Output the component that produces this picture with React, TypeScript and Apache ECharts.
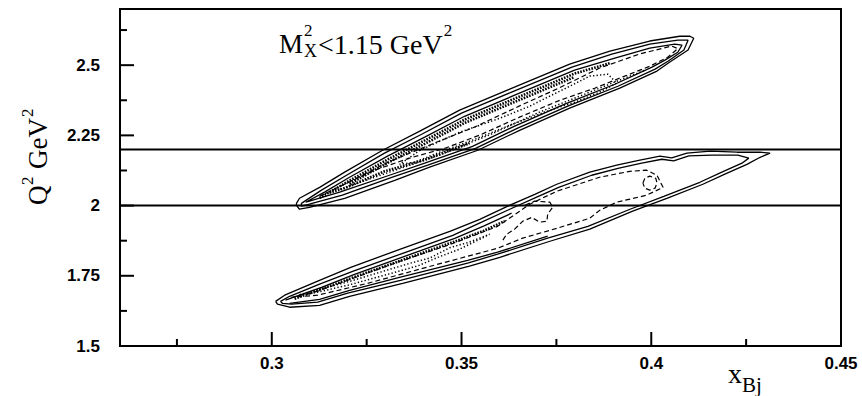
import React, { useEffect, useRef } from "react";
import * as echarts from "echarts";

type Pt = [number, number];

// Axis extents and tick positions (x_Bj, Q^2 in GeV^2)
const X_RANGE: [number, number] = [0.26, 0.45];
const Y_RANGE: [number, number] = [1.5, 2.7];
const X_MAJOR = [0.3, 0.35, 0.4, 0.45];
const X_MINOR = [0.275, 0.325, 0.375, 0.425];
const Y_MAJOR = [1.5, 1.75, 2, 2.25, 2.5];
const Y_MINOR = [1.625, 1.875, 2.125, 2.375, 2.625];

// Q^2 bin edges drawn across the plot
const Q2_CUTS = [2.0, 2.2];

// ---- Upper band (Q^2 > 2 GeV^2) contour levels ----
const A_SOLID_1: Pt[] = [
  [0.3065, 2.008], [0.3073, 2.026], [0.3126, 2.065], [0.3192, 2.119], [0.3292, 2.197],
  [0.339, 2.265], [0.3495, 2.34], [0.3627, 2.415], [0.3785, 2.504], [0.3891, 2.55],
  [0.3996, 2.586], [0.4075, 2.603], [0.4102, 2.603], [0.4112, 2.596],
  [0.4097, 2.554], [0.4049, 2.511], [0.4015, 2.479], [0.3917, 2.418], [0.3785, 2.347],
  [0.3653, 2.268], [0.3543, 2.197], [0.3416, 2.137], [0.3324, 2.09], [0.3192, 2.026],
  [0.3099, 1.994], [0.3073, 1.987], [0.3065, 2.001],
];
const A_SOLID_2: Pt[] = [
  [0.3078, 2.008], [0.3131, 2.055], [0.3197, 2.108], [0.3297, 2.187], [0.3395, 2.254],
  [0.35, 2.329], [0.3632, 2.404], [0.3791, 2.493], [0.3896, 2.539], [0.3996, 2.575],
  [0.407, 2.589], [0.4097, 2.589],
  [0.4086, 2.554], [0.4044, 2.514], [0.401, 2.486], [0.3912, 2.425], [0.378, 2.354],
  [0.3648, 2.276], [0.3537, 2.204], [0.3411, 2.144], [0.3318, 2.101], [0.3186, 2.037],
  [0.3099, 2.005], [0.3078, 1.998],
];
const A_SOLID_3: Pt[] = [
  [0.3089, 2.012], [0.3139, 2.048], [0.3205, 2.101], [0.3305, 2.176], [0.3403, 2.244],
  [0.3508, 2.318], [0.364, 2.393], [0.3798, 2.482], [0.3904, 2.525], [0.3996, 2.561],
  [0.4062, 2.575], [0.4081, 2.571],
  [0.407, 2.546], [0.4036, 2.518], [0.4002, 2.493], [0.3904, 2.432], [0.3772, 2.361],
  [0.364, 2.283], [0.3529, 2.211], [0.3403, 2.151], [0.331, 2.108], [0.3179, 2.048],
  [0.3099, 2.016],
];
const A_DASH_1: Pt[] = [
  [0.3126, 2.033], [0.3205, 2.085], [0.331, 2.157], [0.3442, 2.23], [0.3535, 2.28],
  [0.3653, 2.355], [0.3759, 2.42], [0.3864, 2.49], [0.397, 2.54], [0.4054, 2.568],
  [0.407, 2.559],
  [0.4044, 2.529], [0.3996, 2.496], [0.393, 2.461], [0.3851, 2.418], [0.3759, 2.375],
  [0.3653, 2.315], [0.3548, 2.251], [0.3456, 2.204], [0.3363, 2.169], [0.3271, 2.126],
  [0.3192, 2.076], [0.3131, 2.037],
];
const A_DOT_1: Pt[] = [
  [0.339, 2.197], [0.3495, 2.261], [0.3601, 2.311], [0.368, 2.354], [0.3727, 2.386],
  [0.3775, 2.418], [0.3838, 2.461], [0.3886, 2.468], [0.3909, 2.436], [0.3864, 2.404],
  [0.3798, 2.368], [0.3719, 2.333], [0.3627, 2.286], [0.3535, 2.236], [0.3442, 2.19],
  [0.3376, 2.154], [0.3337, 2.147],
];
const A_DOT_2: Pt[] = [
  [0.3179, 2.058], [0.331, 2.119], [0.3442, 2.18], [0.3574, 2.252], [0.3706, 2.333],
  [0.3812, 2.39], [0.3917, 2.447], [0.3983, 2.482],
];
const A_HATCH_1: Pt[] = [
  [0.3126, 2.027], [0.3205, 2.089], [0.3305, 2.164], [0.3403, 2.232], [0.3508, 2.306],
  [0.364, 2.381], [0.3798, 2.47], [0.3891, 2.507],
];
const A_HATCH_2: Pt[] = [
  [0.3152, 2.046], [0.3192, 2.062], [0.3297, 2.122], [0.3403, 2.163], [0.3521, 2.222],
];
const A_HATCH_3: Pt[] = [
  [0.3205, 2.077], [0.3305, 2.152], [0.3403, 2.22], [0.3508, 2.294], [0.364, 2.369],
  [0.3798, 2.458],
];

// ---- Lower band (Q^2 < 2.2 GeV^2) contour levels ----
const B_SOLID_1: Pt[] = [
  [0.301, 1.659], [0.3034, 1.681], [0.3121, 1.731], [0.3208, 1.78], [0.3339, 1.845],
  [0.3471, 1.909], [0.3548, 1.951], [0.3622, 1.998], [0.3693, 2.04], [0.3751, 2.076],
  [0.3838, 2.119], [0.3909, 2.144], [0.397, 2.162], [0.4023, 2.176], [0.4054, 2.17],
  [0.4094, 2.187], [0.4155, 2.194], [0.4226, 2.19], [0.4287, 2.19], [0.4313, 2.187],
  [0.4287, 2.172], [0.4252, 2.147], [0.4194, 2.112], [0.4136, 2.076], [0.4041, 2.026],
  [0.3951, 1.98], [0.3838, 1.916], [0.3733, 1.873], [0.3601, 1.816], [0.3521, 1.784],
  [0.3345, 1.723], [0.3205, 1.677], [0.3126, 1.645], [0.3047, 1.638], [0.3015, 1.649],
];
const B_SOLID_2: Pt[] = [
  [0.3023, 1.659], [0.3047, 1.677], [0.3126, 1.72], [0.3213, 1.766], [0.3345, 1.83],
  [0.3477, 1.894], [0.3553, 1.941], [0.3627, 1.987], [0.3698, 2.03], [0.3756, 2.065],
  [0.3843, 2.108], [0.3915, 2.133], [0.3975, 2.151], [0.4028, 2.165], [0.4059, 2.159],
  [0.4099, 2.177], [0.416, 2.18], [0.4228, 2.18], [0.4257, 2.169],
  [0.4239, 2.151], [0.4186, 2.119], [0.4128, 2.083], [0.4033, 2.033], [0.3944, 1.987],
  [0.3833, 1.926], [0.3727, 1.884], [0.3595, 1.827], [0.3516, 1.795], [0.3339, 1.734],
  [0.32, 1.688], [0.3121, 1.656], [0.3052, 1.649], [0.3028, 1.652],
];
const B_SOLID_3_UPPER: Pt[] = [
  [0.3036, 1.663], [0.3131, 1.709], [0.3218, 1.755], [0.335, 1.819], [0.3482, 1.883],
  [0.3558, 1.927], [0.3632, 1.973],
];
const B_SOLID_3_LOWER: Pt[] = [
  [0.3047, 1.652], [0.3126, 1.666], [0.3205, 1.698], [0.3339, 1.745], [0.3516, 1.805],
  [0.3595, 1.834], [0.3727, 1.891],
];
const B_DASH_1: Pt[] = [
  [0.3052, 1.673], [0.3121, 1.695], [0.3208, 1.738], [0.3339, 1.802], [0.3471, 1.862],
  [0.3595, 1.926], [0.368, 2.005], [0.3751, 2.051], [0.3864, 2.101], [0.3944, 2.122],
  [0.3988, 2.126], [0.4015, 2.108], [0.4031, 2.065], [0.3988, 2.037], [0.3909, 2.012],
  [0.3864, 1.983], [0.3838, 1.955], [0.3751, 1.919], [0.3661, 1.884], [0.3595, 1.848],
  [0.3429, 1.788], [0.3252, 1.723], [0.3121, 1.681],
];
const B_DASH_2: Pt[] = [
  [0.3609, 1.877], [0.3619, 1.898], [0.364, 1.916], [0.3661, 1.944], [0.3685, 1.958],
  [0.3706, 1.941], [0.3725, 1.944], [0.3727, 1.969], [0.374, 1.994], [0.3733, 2.012],
  [0.3693, 2.016], [0.3667, 2.001],
];
const B_DASH_3: Pt[] = [
  [0.3978, 2.08], [0.3983, 2.097], [0.3996, 2.105], [0.4012, 2.097], [0.4015, 2.08],
  [0.401, 2.062], [0.3996, 2.055], [0.3983, 2.062],
];
const B_DOT_1: Pt[] = [
  [0.3073, 1.683], [0.3205, 1.73], [0.3303, 1.77], [0.3368, 1.796], [0.3416, 1.813],
  [0.3469, 1.85], [0.3521, 1.87], [0.3574, 1.898], [0.3548, 1.88], [0.3495, 1.845],
  [0.3442, 1.818], [0.3384, 1.785], [0.3297, 1.752], [0.3205, 1.718], [0.3099, 1.685],
];
const B_HATCH_1: Pt[] = [
  [0.306, 1.668], [0.3131, 1.703], [0.3218, 1.746], [0.335, 1.809], [0.3482, 1.872],
  [0.3558, 1.91], [0.3614, 1.945],
];

type Kind = "solid" | "dashed" | "dotted" | "hatch";

const LINE_STYLES: Record<Kind, { type: any; width: number }> = {
  solid: { type: "solid", width: 1.3 },
  dashed: { type: [5, 3], width: 1.2 },
  dotted: { type: [1.3, 2.2], width: 1.5 },
  hatch: { type: [1.6, 1.3], width: 2.6 },
};

const CONTOURS: [Pt[], Kind, boolean][] = [
  [A_SOLID_1, "solid", true],
  [A_SOLID_2, "solid", true],
  [A_SOLID_3, "solid", true],
  [A_DASH_1, "dashed", true],
  [A_DOT_1, "dotted", true],
  [A_DOT_2, "dotted", false],
  [A_HATCH_1, "hatch", false],
  [A_HATCH_2, "hatch", false],
  [A_HATCH_3, "hatch", false],
  [B_SOLID_1, "solid", true],
  [B_SOLID_2, "solid", true],
  [B_SOLID_3_UPPER, "solid", false],
  [B_SOLID_3_LOWER, "solid", false],
  [B_DASH_1, "dashed", true],
  [B_DASH_2, "dashed", false],
  [B_DASH_3, "dashed", true],
  [B_DOT_1, "dotted", true],
  [B_HATCH_1, "hatch", false],
];

const SERIF = "'Liberation Serif', 'Times New Roman', serif";
const SANS = "'Liberation Sans', Arial, Helvetica, sans-serif";

// Chart box and plotting area
const WIDTH = 862;
const HEIGHT = 396;
const GRID = { left: 120, top: 9, right: 21, bottom: 50 };
const PLOT_W = WIDTH - GRID.left - GRID.right;
const PLOT_H = HEIGHT - GRID.top - GRID.bottom;

const txt = (x: number, y: number, text: string, size: number) => ({
  type: "text" as const,
  x,
  y,
  silent: true,
  style: {
    text,
    fill: "#000",
    fontFamily: SERIF,
    fontSize: size,
    align: "left",
    verticalAlign: "middle",
  },
});

// Inward tick marks as short line series; pixel length turned into axis units
function tickSeries(values: number[], axis: "x" | "y", lenPx: number) {
  const dy = (lenPx / PLOT_H) * (Y_RANGE[1] - Y_RANGE[0]);
  const dx = (lenPx / PLOT_W) * (X_RANGE[1] - X_RANGE[0]);
  return values.map((v) => ({
    type: "line" as const,
    data:
      axis === "x"
        ? [
            [v, Y_RANGE[0]],
            [v, Y_RANGE[0] + dy],
          ]
        : [
            [X_RANGE[0], v],
            [X_RANGE[0] + dx, v],
          ],
    showSymbol: false,
    symbol: "none",
    silent: true,
    clip: false,
    z: 5,
    lineStyle: { color: "#000", width: 2, type: "solid" as const },
  }));
}

function buildOption(): echarts.EChartsOption {
  const contourSeries = CONTOURS.map(([pts, kind, closed]) => ({
    type: "line" as const,
    data: closed ? [...pts, pts[0]] : pts,
    showSymbol: false,
    symbol: "none",
    silent: true,
    lineStyle: { color: "#000", ...LINE_STYLES[kind] },
  }));

  const cutSeries = Q2_CUTS.map((q) => ({
    type: "line" as const,
    data: [
      [X_RANGE[0], q],
      [X_RANGE[1], q],
    ],
    showSymbol: false,
    symbol: "none",
    silent: true,
    lineStyle: { color: "#000", width: 2, type: "solid" as const },
  }));

  const tickLabel = {
    color: "#000",
    fontFamily: SANS,
    fontWeight: "bold" as const,
    fontSize: 17,
  };

  return {
    animation: false,
    backgroundColor: "#fff",
    grid: {
      ...GRID,
      show: true,
      borderColor: "#000",
      borderWidth: 2,
      backgroundColor: "transparent",
      containLabel: false,
      outerBoundsMode: "none",
    } as any,
    xAxis: {
      type: "value",
      min: X_RANGE[0],
      max: X_RANGE[1],
      position: "bottom",
      axisLine: { show: true, onZero: false, lineStyle: { color: "#000", width: 2 } },
      axisTick: { show: false },
      axisLabel: { ...tickLabel, margin: 9, customValues: X_MAJOR },
      splitLine: { show: false },
    } as any,
    yAxis: {
      type: "value",
      min: Y_RANGE[0],
      max: Y_RANGE[1],
      position: "left",
      axisLine: { show: true, onZero: false, lineStyle: { color: "#000", width: 2 } },
      axisTick: { show: false },
      axisLabel: { ...tickLabel, margin: 20, customValues: Y_MAJOR },
      splitLine: { show: false },
    } as any,
    series: [
      ...cutSeries,
      ...contourSeries,
      ...tickSeries(X_MAJOR, "x", 14),
      ...tickSeries(X_MINOR, "x", 7),
      ...tickSeries(Y_MAJOR, "y", 14),
      ...tickSeries(Y_MINOR, "y", 7),
    ] as any,
    graphic: [
      // M_X^2 < 1.15 GeV^2
      txt(279, 44, "M", 27),
      txt(304, 30, "2", 17),
      txt(304, 51, "X", 18),
      {
        type: "text",
        x: 318,
        y: 44,
        silent: true,
        style: {
          text: "{m|<1.15 GeV}{s|2}",
          fill: "#000",
          align: "left",
          verticalAlign: "middle",
          rich: {
            m: { fontFamily: SERIF, fontSize: 28, lineHeight: 44, fill: "#000" },
            s: {
              fontFamily: SERIF,
              fontSize: 17,
              lineHeight: 17,
              verticalAlign: "top",
              fill: "#000",
              padding: [0, 0, 0, 1],
            },
          },
        },
      },
      // x_Bj
      txt(728, 373.5, "x", 28),
      txt(742, 385, "Bj", 21),
      // Q^2 GeV^2 (rotated, reads bottom to top)
      {
        type: "group",
        x: 38,
        y: 205,
        rotation: Math.PI / 2,
        silent: true,
        children: [
          txt(0, 0, "Q", 27),
          txt(20, -11, "2", 17),
          txt(36, 0, "GeV", 27),
          txt(88, -11, "2", 17),
        ],
      },
    ] as any,
  };
}

export default function App() {
  const ref = useRef<HTMLDivElement>(null);

  useEffect(() => {
    if (!ref.current) return;
    const chart = echarts.init(ref.current, null, { renderer: "svg" });
    chart.setOption(buildOption());
    return () => {
      chart.dispose();
    };
  }, []);

  return (
    <div
      ref={ref}
      style={{
        position: "fixed",
        left: 0,
        top: 0,
        width: WIDTH,
        height: HEIGHT,
        background: "#fff",
      }}
    />
  );
}
